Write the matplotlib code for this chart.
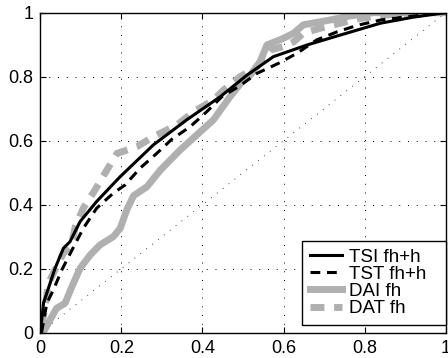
import matplotlib
matplotlib.use("Agg")
import matplotlib.pyplot as plt

plt.rcParams['font.family'] = ['Liberation Sans', 'DejaVu Sans']

tsi_x = [0, 0.008, 0.036, 0.057, 0.073, 0.098, 0.139, 0.189, 0.197, 0.279, 0.361, 0.444, 0.51, 0.575, 0.658, 0.74, 0.839, 0.921, 1.0]
tsi_y = [0, 0.093, 0.20, 0.264, 0.284, 0.347, 0.41, 0.477, 0.4875, 0.587, 0.665, 0.7375, 0.805, 0.8625, 0.899, 0.93, 0.967, 0.986, 1.0]

tst_x = [0.003, 0.016, 0.032, 0.053, 0.078, 0.106, 0.139, 0.18, 0.209, 0.246, 0.287, 0.324, 0.37, 0.41, 0.448, 0.493, 0.534, 0.588, 0.633, 0.682, 0.732, 0.781, 0.839, 0.905, 0.987, 1.0]
tst_y = [0.0, 0.092, 0.133, 0.196, 0.258, 0.326, 0.389, 0.436, 0.4615, 0.514, 0.56, 0.604, 0.644, 0.69, 0.7375, 0.772, 0.81, 0.842, 0.873, 0.915, 0.94, 0.96, 0.977, 0.9875, 0.998, 1.0]

dai_x = [0.007, 0.024, 0.04, 0.061, 0.078, 0.098, 0.123, 0.147, 0.18, 0.197, 0.213, 0.23, 0.263, 0.296, 0.345, 0.386, 0.427, 0.468, 0.501, 0.518, 0.542, 0.559, 0.6, 0.625, 0.649, 0.715, 0.765, 0.822, 1.0]
dai_y = [0.0, 0.04, 0.076, 0.092, 0.144, 0.201, 0.243, 0.274, 0.30, 0.326, 0.383, 0.428, 0.456, 0.508, 0.571, 0.618, 0.665, 0.7375, 0.79, 0.805, 0.847, 0.899, 0.92, 0.936, 0.962, 0.977, 0.99, 1.0, 1.0]

dat_x = [0.003, 0.012, 0.02, 0.036, 0.057, 0.078, 0.086, 0.106, 0.135, 0.164, 0.189, 0.238, 0.279, 0.337, 0.378, 0.427, 0.452, 0.493, 0.534, 0.567, 0.6, 0.625, 0.649, 0.69, 0.74, 0.79, 0.847, 0.92, 1.0]
dat_y = [0.02, 0.081, 0.154, 0.196, 0.248, 0.279, 0.331, 0.389, 0.446, 0.508, 0.56, 0.581, 0.6125, 0.649, 0.69, 0.727, 0.758, 0.8, 0.83, 0.883, 0.894, 0.909, 0.936, 0.951, 0.967, 0.982, 0.992, 1.0, 1.0]

labels = ['TSI fh+h', 'TST fh+h', 'DAI fh', 'DAT fh']
ticks = [0, 0.2, 0.4, 0.6, 0.8, 1]
tick_labels = ['0', '0.2', '0.4', '0.6', '0.8', '1']

fig = plt.figure(figsize=(4.48, 3.58), dpi=100)
ax = fig.add_axes([0.09, 0.0707, 0.905, 0.894])

gray = '#b0b0b0'
ax.plot([0, 1], [0, 1], color='black', lw=0.6, linestyle=(0, (1, 8)), zorder=1)
l3, = ax.plot(dai_x, dai_y, color=gray, lw=5, zorder=2)
l4, = ax.plot(dat_x, dat_y, color=gray, lw=5, linestyle=(0, (2.0, 1.4)), zorder=2)
l1, = ax.plot(tsi_x, tsi_y, color='black', lw=2.2, zorder=3)
l2, = ax.plot(tst_x, tst_y, color='black', lw=2.2, linestyle=(0, (3.2, 2.2)), zorder=3)

ax.set_xlim(0, 1)
ax.set_ylim(0, 1)
ax.set_xticks(ticks)
ax.set_xticklabels(tick_labels)
ax.set_yticks(ticks)
ax.set_yticklabels(tick_labels)
ax.tick_params(direction='in', top=True, right=True, labelsize=13, length=4, width=0.8, pad=5)
ax.grid(True, color='black', linestyle=(0, (1, 8)), linewidth=0.7)
for s in ax.spines.values():
    s.set_linewidth(1.0)

leg = ax.legend([l1, l2, l3, l4], labels, loc='lower left', mode='expand',
                bbox_to_anchor=(0.645, 0.024, 0.355, 0.28), fontsize=13.5,
                frameon=True, fancybox=False, framealpha=1, edgecolor='black',
                borderaxespad=0, handlelength=1.7, labelspacing=0.0,
                borderpad=0.42, handletextpad=0.4)
leg.get_frame().set_linewidth(1.0)

fig.savefig('out.png', dpi=100)
